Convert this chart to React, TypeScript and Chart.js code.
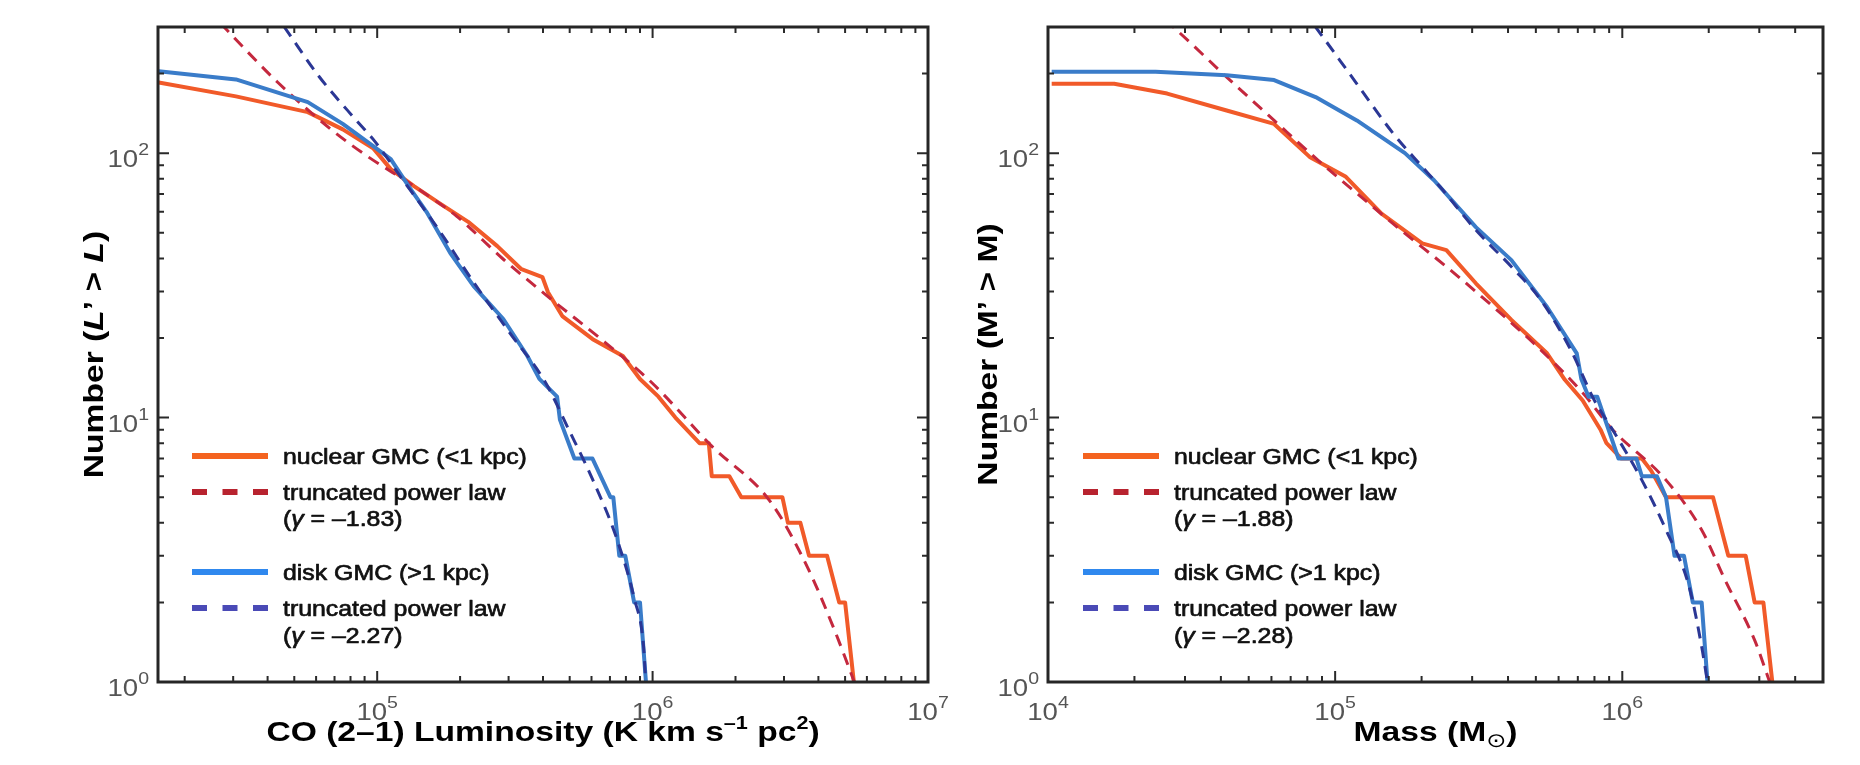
import React, { useEffect, useRef } from 'react';
import { Chart, registerables } from 'chart.js';

Chart.register(...registerables);

const FONT = '"Liberation Sans", Arial, Helvetica, "DejaVu Sans", sans-serif';

// ---------- Left panel: CO (2-1) luminosity ----------
const lumNuclearL = [16100, 30700, 56000, 75000, 97000, 112000, 136000, 167000, 214000, 273000, 334000, 398000, 417000, 470000, 606000, 780000, 900000, 1050000, 1210000, 1480000, 1600000, 1640000, 1900000, 2100000, 2960000, 3100000, 3440000, 3700000, 4300000, 4760000, 5000000, 5380000];
const lumNuclearN = [185, 164, 143, 123, 104, 87, 75, 65, 55, 44.5, 36.4, 34, 29.8, 24.2, 19.8, 17.1, 14, 12, 10, 8, 8, 6, 6, 5, 5, 4, 4, 3, 3, 2, 2, 1];
const lumNuclearFitL = [21500, 27800, 43600, 68000, 92000, 136000, 194000, 287000, 429000, 670000, 990000, 1640000, 2680000, 3630000, 4600000, 5400000];
const lumNuclearFitN = [400, 300, 185, 123, 97.4, 75, 57.8, 39.7, 28, 19.3, 13.6, 7.8, 4.8, 2.75, 1.55, 1];
const lumDiskL = [16100, 30700, 56000, 75000, 97000, 112000, 130000, 151000, 184000, 224000, 287000, 351000, 388000, 450000, 461000, 520000, 605000, 703000, 720000, 757000, 796000, 857000, 900000, 946000];
const lumDiskN = [204, 190, 156, 129, 106, 95, 75, 60, 42, 31.4, 23.6, 17.1, 14, 12, 9.8, 7, 7, 5, 5, 3, 3, 2, 2, 1];
const lumDiskFitL = [37800, 46000, 61500, 83200, 96600, 123300, 166700, 224000, 302000, 408000, 495000, 605000, 740000, 859000, 927000, 944000];
const lumDiskFitN = [400, 300, 195, 134.5, 113, 79.8, 51.6, 32.5, 21, 13.6, 9.05, 5.85, 3.5, 2.06, 1.37, 1];

// ---------- Right panel: mass ----------
const massNuclearM = [10300, 17000, 26000, 41900, 61300, 81500, 109000, 145000, 201000, 244000, 309000, 411000, 547000, 631000, 728000, 840000, 881000, 993000, 1170000, 1260000, 1420000, 2070000, 2340000, 2690000, 2890000, 3100000, 3330000];
const massNuclearN = [183, 183, 168, 145, 129, 96.8, 81.4, 59.1, 45.6, 43, 32.2, 23.4, 17.5, 13.9, 11.6, 9, 8, 7, 7, 6.3, 5, 5, 3, 3, 2, 2, 1];
const massNuclearFitM = [20000, 27300, 41900, 61300, 89800, 131000, 175000, 244000, 356000, 521000, 728000, 925000, 1420000, 1890000, 2280000, 2890000, 3260000];
const massNuclearFitN = [400, 300, 194, 133, 91.4, 64.6, 49.7, 37.2, 26.2, 18, 12.4, 9, 5.8, 3.76, 2.43, 1.44, 1];
const massDiskM = [10300, 23700, 41900, 61300, 85500, 119000, 175000, 221000, 309000, 411000, 547000, 694000, 720000, 763000, 818000, 970000, 1120000, 1170000, 1320000, 1420000, 1520000, 1640000, 1760000, 1890000, 1980000];
const massDiskN = [203, 203, 197, 189, 163, 133, 100, 79, 52.5, 39.4, 26.2, 17.5, 14, 12, 12, 7, 7, 6, 6, 5, 3, 3, 2, 2, 1];
const massDiskFitM = [70300, 85500, 119000, 159000, 201000, 232000, 309000, 411000, 521000, 662000, 800000, 925000, 1170000, 1420000, 1710000, 1890000, 1980000];
const massDiskFitN = [400, 300, 183, 119, 88.8, 74.6, 51.2, 37.2, 27.8, 18, 11.6, 9, 5.8, 3.76, 2.29, 1.36, 1];

// ---------- axes ----------
const yDecadeExps = [0, 1, 2];
const lumDecadeExps = [4, 5, 6, 7];
const massDecadeExps = [4, 5, 6];
const lumGammaNuclear = '–1.83';
const lumGammaDisk = '–2.27';
const massGammaNuclear = '–1.88';
const massGammaDisk = '–2.28';

const ORANGE = '#F15A29';
const RED = '#C4283E';
const BLUE = '#3A7CC9';
const NAVY = '#2B3795';
const LEG_ORANGE = '#F4631F';
const LEG_RED = '#B8232F';
const LEG_BLUE = '#2F88EE';
const LEG_NAVY = '#4A4AB6';

type Run = { t: string; size: number; bold?: boolean; italic?: boolean; dy?: number; color?: string };

function runFont(r: Run) {
  return `${r.italic ? 'italic ' : ''}${r.bold ? 'bold ' : ''}${r.size}px ${FONT}`;
}

function runsWidth(ctx: CanvasRenderingContext2D, runs: Run[]) {
  let w = 0;
  for (const r of runs) {
    ctx.font = runFont(r);
    w += ctx.measureText(r.t).width;
  }
  return w;
}

function drawRuns(
  ctx: CanvasRenderingContext2D,
  runs: Run[],
  x: number,
  y: number,
  align: 'left' | 'center' | 'right',
  sx: number,
  rot = 0,
  color = '#000',
  embolden = 0
) {
  ctx.save();
  ctx.translate(x, y);
  if (rot) ctx.rotate(rot);
  ctx.scale(sx, 1);
  const w = runsWidth(ctx, runs);
  let cx = align === 'center' ? -w / 2 : align === 'right' ? -w : 0;
  ctx.textBaseline = 'alphabetic';
  ctx.textAlign = 'left';
  for (const r of runs) {
    ctx.font = runFont(r);
    ctx.fillStyle = r.color || color;
    ctx.fillText(r.t, cx, r.dy || 0);
    if (embolden > 0) {
      ctx.strokeStyle = r.color || color;
      ctx.lineWidth = embolden;
      ctx.lineJoin = 'round';
      ctx.strokeText(r.t, cx, r.dy || 0);
    }
    cx += ctx.measureText(r.t).width;
  }
  ctx.restore();
}

const zip = (xs: number[], ys: number[]) => xs.map((x, i) => ({ x, y: ys[i] }));

type Panel = {
  canvasLeft: number;
  canvasWidth: number;
  plotLeft: number;
  plotRight: number;
  xMin: number;
  xMax: number;
  xDecades: number[];
  nucX: number[]; nucY: number[];
  nucFitX: number[]; nucFitY: number[];
  diskX: number[]; diskY: number[];
  diskFitX: number[]; diskFitY: number[];
  xTitle: Run[];
  yTitle: Run[];
  yTitleX: number;
  legendX: number;
  gammaNuc: string;
  gammaDisk: string;
};

const PLOT_TOP = 27;
const PLOT_BOTTOM = 682;
const HEIGHT = 765;

const TB = 28; // title font size
const leftPanel: Panel = {
  canvasLeft: 0,
  canvasWidth: 1000,
  plotLeft: 158,
  plotRight: 928,
  xMin: 16000,
  xMax: 1e7,
  xDecades: lumDecadeExps,
  nucX: lumNuclearL, nucY: lumNuclearN,
  nucFitX: lumNuclearFitL, nucFitY: lumNuclearFitN,
  diskX: lumDiskL, diskY: lumDiskN,
  diskFitX: lumDiskFitL, diskFitY: lumDiskFitN,
  xTitle: [
    { t: 'CO (2–1) Luminosity (K km s', size: TB, bold: true },
    { t: '–1', size: 18, bold: true, dy: -12 },
    { t: ' pc', size: TB, bold: true },
    { t: '2', size: 18, bold: true, dy: -12 },
    { t: ')', size: TB, bold: true },
  ],
  yTitle: [
    { t: 'Number (', size: TB, bold: true },
    { t: 'L', size: TB, bold: true, italic: true },
    { t: '’ > ', size: TB, bold: true },
    { t: 'L', size: TB, bold: true, italic: true },
    { t: ')', size: TB, bold: true },
  ],
  yTitleX: 93,
  legendX: 192,
  gammaNuc: lumGammaNuclear,
  gammaDisk: lumGammaDisk,
};

const rightPanel: Panel = {
  canvasLeft: 940,
  canvasWidth: 920,
  plotLeft: 1048,
  plotRight: 1823,
  xMin: 1e4,
  xMax: 5e6,
  xDecades: massDecadeExps,
  nucX: massNuclearM, nucY: massNuclearN,
  nucFitX: massNuclearFitM, nucFitY: massNuclearFitN,
  diskX: massDiskM, diskY: massDiskN,
  diskFitX: massDiskFitM, diskFitY: massDiskFitN,
  xTitle: [
    { t: 'Mass (M', size: TB, bold: true },
    { t: '⊙', size: 20, dy: 6 },
    { t: ')', size: TB, bold: true },
  ],
  yTitle: [{ t: 'Number (M’ > M)', size: TB, bold: true }],
  yTitleX: 987,
  legendX: 1083,
  gammaNuc: massGammaNuclear,
  gammaDisk: massGammaDisk,
};

function framePlugin(p: Panel) {
  return {
    id: 'frame' + p.canvasLeft,
    afterDraw(chart: any) {
      const ctx: CanvasRenderingContext2D = chart.ctx;
      const { left, right, top, bottom } = chart.chartArea;
      const xs = chart.scales.x;
      const ys = chart.scales.y;
      const off = p.canvasLeft;
      ctx.save();
      // ticks
      ctx.strokeStyle = '#2a2a2a';
      ctx.lineWidth = 2;
      ctx.beginPath();
      for (let d = 3; d <= 7; d++) {
        for (let m = 1; m <= 9; m++) {
          const v = m * Math.pow(10, d);
          if (v < p.xMin * 0.999 || v > p.xMax * 1.001) continue;
          const px = xs.getPixelForValue(v);
          const len = m === 1 ? 11 : 6;
          ctx.moveTo(px, bottom);
          ctx.lineTo(px, bottom - len);
          ctx.moveTo(px, top);
          ctx.lineTo(px, top + len);
        }
      }
      for (let d = 0; d <= 2; d++) {
        for (let m = 1; m <= 9; m++) {
          const v = m * Math.pow(10, d);
          if (v > 300.5) continue;
          const py = ys.getPixelForValue(v);
          const len = m === 1 ? 11 : 6;
          ctx.moveTo(left, py);
          ctx.lineTo(left + len, py);
          ctx.moveTo(right, py);
          ctx.lineTo(right - len, py);
        }
      }
      ctx.stroke();
      // box
      ctx.lineWidth = 3;
      ctx.strokeStyle = '#262626';
      ctx.strokeRect(left, top, right - left, bottom - top);

      // tick labels
      const SX = 1.15;
      for (const e of p.xDecades) {
        const v = Math.pow(10, e);
        if (v < p.xMin * 0.999 || v > p.xMax * 1.001) continue;
        const px = xs.getPixelForValue(v);
        drawRuns(ctx, [
          { t: '10', size: 24 },
          { t: String(e), size: 17, dy: -12 },
        ], px, bottom + 38, 'center', SX, 0, '#555');
      }
      for (const e of yDecadeExps) {
        const py = ys.getPixelForValue(Math.pow(10, e));
        drawRuns(ctx, [
          { t: '10', size: 24 },
          { t: String(e), size: 17, dy: -12 },
        ], left - 9, py + 14, 'right', SX, 0, '#555');
      }

      // axis titles
      drawRuns(ctx, p.xTitle, (left + right) / 2, 741, 'center', 1.2, 0, '#000');
      drawRuns(ctx, p.yTitle, p.yTitleX - off + 10, (top + bottom) / 2, 'center', 1.2, -Math.PI / 2, '#000');

      // legend
      const lx0 = p.legendX - off;
      const lx1 = lx0 + 76;
      const tx = lx0 + 91;
      const rows = [456, 492, 518, 572, 608, 635];
      ctx.lineCap = 'butt';
      ctx.lineWidth = 6;
      ctx.setLineDash([]);
      ctx.strokeStyle = LEG_ORANGE;
      ctx.beginPath(); ctx.moveTo(lx0, rows[0]); ctx.lineTo(lx1, rows[0]); ctx.stroke();
      ctx.strokeStyle = LEG_BLUE;
      ctx.beginPath(); ctx.moveTo(lx0, rows[3]); ctx.lineTo(lx1, rows[3]); ctx.stroke();
      ctx.setLineDash([15, 15.5]);
      ctx.strokeStyle = LEG_RED;
      ctx.beginPath(); ctx.moveTo(lx0, rows[1]); ctx.lineTo(lx1, rows[1]); ctx.stroke();
      ctx.strokeStyle = LEG_NAVY;
      ctx.beginPath(); ctx.moveTo(lx0, rows[4]); ctx.lineTo(lx1, rows[4]); ctx.stroke();
      ctx.setLineDash([]);
      const LS = 22;
      const LSX = 1.13;
      const lc = '#111';
      const EB = 0.7;
      drawRuns(ctx, [{ t: 'nuclear GMC (<1 kpc)', size: LS }], tx, rows[0] + 8, 'left', LSX, 0, lc, EB);
      drawRuns(ctx, [{ t: 'truncated power law', size: LS }], tx, rows[1] + 8, 'left', LSX, 0, lc, EB);
      drawRuns(ctx, [
        { t: '(', size: LS },
        { t: 'γ', size: LS, italic: true },
        { t: ' = ' + p.gammaNuc + ')', size: LS },
      ], tx, rows[2] + 8, 'left', LSX, 0, lc, EB);
      drawRuns(ctx, [{ t: 'disk GMC (>1 kpc)', size: LS }], tx, rows[3] + 8, 'left', LSX, 0, lc, EB);
      drawRuns(ctx, [{ t: 'truncated power law', size: LS }], tx, rows[4] + 8, 'left', LSX, 0, lc, EB);
      drawRuns(ctx, [
        { t: '(', size: LS },
        { t: 'γ', size: LS, italic: true },
        { t: ' = ' + p.gammaDisk + ')', size: LS },
      ], tx, rows[5] + 8, 'left', LSX, 0, lc, EB);
      ctx.restore();
    },
  };
}

function makeChart(canvas: HTMLCanvasElement, p: Panel) {
  const padLeft = p.plotLeft - p.canvasLeft;
  const padRight = p.canvasWidth - (p.plotRight - p.canvasLeft);
  return new Chart(canvas, {
    type: 'line',
    data: {
      datasets: [
        {
          label: 'disk fit',
          data: zip(p.diskFitX, p.diskFitY),
          borderColor: NAVY,
          borderWidth: 3,
          borderDash: [12, 8],
          pointRadius: 0,
          cubicInterpolationMode: 'monotone',
          clip: 0,
          order: 0,
        },
        {
          label: 'disk',
          data: zip(p.diskX, p.diskY),
          borderColor: BLUE,
          borderWidth: 4,
          pointRadius: 0,
          tension: 0,
          clip: 0,
          borderJoinStyle: 'round',
          order: 1,
        },
        {
          label: 'nuclear fit',
          data: zip(p.nucFitX, p.nucFitY),
          borderColor: RED,
          borderWidth: 3,
          borderDash: [12, 8],
          pointRadius: 0,
          cubicInterpolationMode: 'monotone',
          clip: 0,
          order: 2,
        },
        {
          label: 'nuclear',
          data: zip(p.nucX, p.nucY),
          borderColor: ORANGE,
          borderWidth: 4,
          pointRadius: 0,
          tension: 0,
          clip: 0,
          borderJoinStyle: 'round',
          order: 3,
        },
      ] as any,
    },
    options: {
      animation: false,
      responsive: false,
      devicePixelRatio: 1,
      events: [],
      layout: { padding: { left: padLeft, right: padRight, top: PLOT_TOP, bottom: HEIGHT - PLOT_BOTTOM } },
      scales: {
        x: { type: 'logarithmic', min: p.xMin, max: p.xMax, display: false },
        y: { type: 'logarithmic', min: 1, max: 300, display: false },
      },
      plugins: { legend: { display: false }, tooltip: { enabled: false } },
    } as any,
    plugins: [framePlugin(p)],
  });
}

function PanelCanvas({ p }: { p: Panel }) {
  const ref = useRef<HTMLCanvasElement>(null);
  useEffect(() => {
    if (!ref.current) return;
    const c = makeChart(ref.current, p);
    return () => c.destroy();
  }, [p]);
  return (
    <canvas
      ref={ref}
      width={p.canvasWidth}
      height={HEIGHT}
      style={{ position: 'absolute', left: p.canvasLeft, top: 0, width: p.canvasWidth, height: HEIGHT }}
    />
  );
}

export default function App() {
  return (
    <div style={{ position: 'fixed', left: 0, top: 0, width: 1860, height: HEIGHT, background: '#fff', overflow: 'hidden' }}>
      <PanelCanvas p={leftPanel} />
      <PanelCanvas p={rightPanel} />
    </div>
  );
}
